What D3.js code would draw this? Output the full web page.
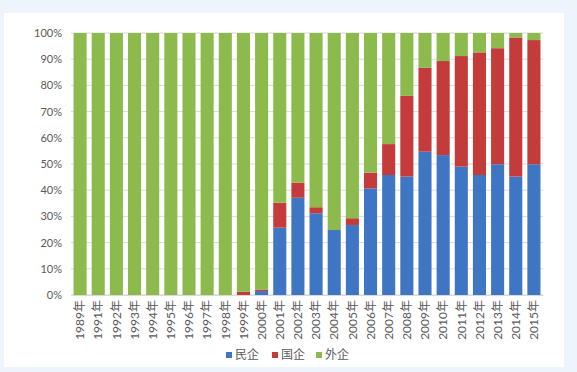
<!DOCTYPE html>
<html>
<head>
<meta charset="utf-8">
<script src="https://cdn.jsdelivr.net/npm/d3@7"></script>
<style>
  body { margin: 0; background: #eef4fb; }
  #chart { position: absolute; left: 0; top: 0; }
</style>
</head>
<body>
<div id="chart"></div>
<script>
// chart data (percent shares per year)
let years = ["1989年", "1991年", "1992年", "1993年", "1994年", "1995年", "1996年", "1997年", "1998年",
  "1999年", "2000年", "2001年", "2002年", "2003年", "2004年", "2005年", "2006年", "2007年",
  "2008年", "2009年", "2010年", "2011年", "2012年", "2013年", "2014年", "2015年"];
let privateShare = [0, 0, 0, 0, 0, 0, 0, 0, 0, 0, 1.5, 25.7, 37.1, 31.2, 24.8, 26.7, 40.7, 45.8,
  45.2, 54.7, 53.4, 49.0, 45.8, 49.9, 45.2, 49.9];
let stateShare = [0, 0, 0, 0, 0, 0, 0, 0, 0, 1.2, 0.6, 9.5, 5.8, 2.3, 0, 2.6, 6.0, 11.8,
  30.8, 32.1, 35.9, 42.2, 46.8, 44.3, 53.1, 47.4];
let foreignShare = [100, 100, 100, 100, 100, 100, 100, 100, 100, 98.8, 97.9, 64.8, 57.1, 66.5, 75.2, 70.7, 53.3, 42.4,
  24.0, 13.2, 10.7, 8.8, 7.4, 5.8, 1.7, 2.7];
let seriesNames = ["民企", "国企", "外企"];
let yTicks = [0, 10, 20, 30, 40, 50, 60, 70, 80, 90, 100];

let width = 577;
let height = 372;
let plotLeft = 71;
let plotRight = 543;
let plotTop = 33;
let plotBottom = 295;
let colors = ["#3e76c3", "#c33b3b", "#8dba4c"];
let textColor = "#595959";

let svg = d3.select("#chart")
  .append("svg")
  .attr("width", width)
  .attr("height", height);

// white panel
svg.append("rect")
  .attr("x", 4).attr("y", 13)
  .attr("width", 560).attr("height", 354)
  .attr("fill", "#ffffff");

let rows = years.map((y, i) => ({ year: y, "民企": privateShare[i], "国企": stateShare[i], "外企": foreignShare[i] }));
let stacked = d3.stack().keys(seriesNames)(rows);

let x = d3.scaleBand().domain(years).range([plotLeft, plotRight]).paddingInner(0.28).paddingOuter(0.14);
let y = d3.scaleLinear().domain([0, 100]).range([plotBottom, plotTop]);

// gridlines
svg.append("g")
  .selectAll("line")
  .data(yTicks)
  .join("line")
  .attr("x1", plotLeft).attr("x2", plotRight)
  .attr("y1", d => y(d)).attr("y2", d => y(d))
  .attr("stroke", "#d9d9d9")
  .attr("stroke-width", 1);

// y axis labels
let yAxis = d3.axisLeft(y).tickValues(yTicks).tickFormat(d => d + "%").tickSize(0).tickPadding(9);
svg.append("g")
  .attr("transform", "translate(" + plotLeft + ",0)")
  .call(yAxis)
  .call(g => g.select(".domain").remove())
  .selectAll("text")
  .attr("fill", textColor)
  .style("font-family", "Lato, 'Liberation Sans', sans-serif")
  .style("font-size", "11px");

// bars
svg.append("g")
  .selectAll("g")
  .data(stacked)
  .join("g")
  .attr("fill", (d, i) => colors[i])
  .selectAll("rect")
  .data(d => d)
  .join("rect")
  .attr("x", d => x(d.data.year))
  .attr("width", x.bandwidth())
  .attr("y", d => y(d[1]))
  .attr("height", d => y(d[0]) - y(d[1]));

// x axis labels (rotated)
let xAxis = d3.axisBottom(x).tickSize(0).tickPadding(0);
svg.append("g")
  .attr("transform", "translate(0," + plotBottom + ")")
  .call(xAxis)
  .call(g => g.select(".domain").attr("stroke", "#d9d9d9"))
  .selectAll("text")
  .attr("fill", textColor)
  .style("font-family", "Lato, 'Noto Sans CJK SC', sans-serif")
  .style("font-size", "12px")
  .attr("text-anchor", "end")
  .attr("transform", "rotate(-90)")
  .attr("x", -5)
  .attr("y", 0)
  .attr("dy", "0.35em");

// legend
let legendX = [226, 272, 316];
let legend = svg.append("g").attr("class", "legend");
let items = legend.selectAll("g")
  .data(seriesNames)
  .join("g")
  .attr("transform", (d, i) => "translate(" + legendX[i] + ",355)");
items.append("rect")
  .attr("x", 0).attr("y", -3)
  .attr("width", 6).attr("height", 6)
  .attr("fill", (d, i) => colors[i]);
items.append("text")
  .attr("x", 9)
  .attr("dy", "0.35em")
  .attr("fill", textColor)
  .style("font-family", "'Noto Sans CJK SC', sans-serif")
  .style("font-size", "12px")
  .text(d => d);
</script>
</body>
</html>
